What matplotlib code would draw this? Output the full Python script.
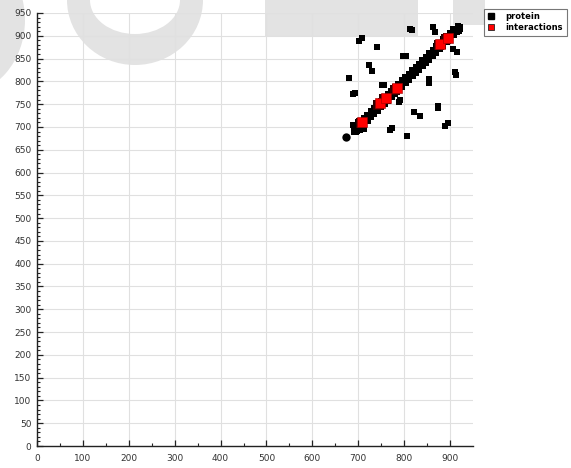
import matplotlib
matplotlib.use("Agg")
import matplotlib.pyplot as plt
from matplotlib.patches import Ellipse, Rectangle
from matplotlib.lines import Line2D

W, H = 571, 468

# ---- data ----
scatter_x = [701, 708, 741, 797, 803, 813, 817, 723, 730, 863, 867, 917, 906, 915,
             911, 914, 680, 688, 692, 752, 757, 789, 790, 769, 773, 806, 854, 854,
             821, 834, 874, 874, 889, 895]
scatter_y = [889, 895, 875, 856, 855, 915, 913, 836, 823, 919, 908, 921, 871, 864,
             820, 815, 807, 772, 775, 792, 792, 755, 760, 693, 697, 680, 805, 797,
             733, 724, 741, 746, 702, 708]

diag_x = [692, 696, 699, 703, 707, 711, 714, 718, 722, 726, 729, 733, 737, 741, 744,
          748, 752, 756, 759, 763, 767, 771, 774, 778, 782, 786, 789, 793, 797, 801,
          804, 808, 812, 816, 819, 823, 827, 831, 834, 838, 842, 846, 849, 853, 857,
          861, 864, 868, 872, 876, 879, 883, 887, 891, 894, 898, 902, 906, 909, 913,
          917, 920]
diag_y = [695, 693, 702, 700, 710, 708, 717, 715, 725, 723, 732, 730, 740, 738, 747,
          745, 755, 753, 762, 760, 770, 768, 777, 775, 785, 783, 792, 790, 800, 798,
          807, 805, 815, 813, 822, 820, 830, 828, 837, 835, 845, 843, 852, 850, 860,
          858, 867, 865, 875, 873, 882, 880, 890, 888, 897, 895, 905, 903, 912, 910,
          913, 917]

cluster_x = [688, 692, 696, 700, 705, 712, 690, 697, 703]
cluster_y = [705, 695, 688, 710, 700, 696, 690, 701, 693]

circle_x = [673]
circle_y = [678]

inter_x = [708, 747, 760, 784, 878, 895]
inter_y = [711, 752, 764, 785, 882, 895]

series_labels = ["protein", "interactions"]
xticks = [0, 100, 200, 300, 400, 500, 600, 700, 800, 900]
yticks = list(range(0, 951, 50))

protein_x = scatter_x + cluster_x
protein_y = scatter_y + cluster_y

# ---- figure ----
fig = plt.figure(figsize=(W / 100, H / 100), dpi=100)
fig.patch.set_facecolor("white")

wm = "#e3e3e3"
def fx(px):
    return px / W
def fy(py):
    return 1 - py / H

# watermark shapes (pixel geometry -> figure fraction)
fig.add_artist(Ellipse((fx(-40), fy(20)), 130 / W, 150 / H, transform=fig.transFigure,
                       facecolor=wm, edgecolor="none", zorder=0))
fig.add_artist(Ellipse((fx(135), fy(0)), 136 / W, 130 / H, transform=fig.transFigure,
                       facecolor=wm, edgecolor="none", zorder=0))
fig.add_artist(Ellipse((fx(135), fy(0)), 90 / W, 68 / H, transform=fig.transFigure,
                       facecolor="white", edgecolor="none", zorder=0.1))
fig.add_artist(Rectangle((fx(265), fy(36)), 153 / W, 36 / H, transform=fig.transFigure,
                         facecolor=wm, edgecolor="none", zorder=0))
fig.add_artist(Rectangle((fx(453), fy(25)), 32 / W, 25 / H, transform=fig.transFigure,
                         facecolor=wm, edgecolor="none", zorder=0))

ax = fig.add_axes([37 / W, 22 / H, 436 / W, 433 / H])
ax.set_facecolor("none")
ax.set_zorder(1)

ax.plot(protein_x, protein_y, linestyle="none", marker="s", markersize=3.8,
        color="black", markeredgewidth=0, zorder=3)
ax.plot(diag_x, diag_y, linestyle="none", marker="s", markersize=5.2,
        color="black", markeredgewidth=0, zorder=3)
ax.plot(circle_x, circle_y, linestyle="none", marker="o", markersize=6,
        color="black", markeredgewidth=0, zorder=3)
# dark shadow behind the red squares
ax.plot([v - 3 for v in inter_x], [v - 3 for v in inter_y], linestyle="none",
        marker="s", markersize=7, color="#300000", markeredgewidth=0, zorder=3.5)
ax.plot(inter_x, inter_y, linestyle="none", marker="s", markersize=7,
        markerfacecolor="#ff0000", markeredgecolor="#9a0000", markeredgewidth=0.4, zorder=4)

ax.set_xlim(0, 950)
ax.set_ylim(0, 950)
ax.set_xticks(xticks)
ax.set_xticks(range(50, 950, 100), minor=True)
ax.set_yticks(yticks)
ax.set_yticks([v for v in range(0, 951, 10) if v % 50], minor=True)

ax.grid(True, which="major", color="#e0e0e0", linewidth=0.8, zorder=0)
ax.set_axisbelow(True)

for s in ["top", "right"]:
    ax.spines[s].set_visible(False)
for s in ["left", "bottom"]:
    ax.spines[s].set_color("#222222")
    ax.spines[s].set_linewidth(1.0)

ax.tick_params(axis="both", which="major", direction="in", length=4, width=0.9,
               color="#222222", labelsize=6.5, labelcolor="#333333")
ax.tick_params(axis="both", which="minor", direction="in", length=2, width=0.8,
               color="#222222")
ax.tick_params(axis="x", which="major", pad=6)
ax.tick_params(axis="y", which="major", pad=4)

handles = [
    Line2D([], [], linestyle="none", marker="s", markersize=5, color="black"),
    Line2D([], [], linestyle="none", marker="s", markersize=5,
           markerfacecolor="#ff0000", markeredgecolor="#222222", markeredgewidth=0.6),
]
leg = fig.legend(handles, series_labels, loc="upper left",
                 bbox_to_anchor=(484 / W, 1 - 9 / H), bbox_transform=fig.transFigure,
                 prop={"size": 6, "weight": "bold"}, frameon=True, fancybox=False,
                 shadow=False, handlelength=0.8, handletextpad=1.4, borderpad=0.4,
                 labelspacing=0.25, borderaxespad=0)
leg.get_frame().set_edgecolor("#555555")
leg.get_frame().set_linewidth(0.8)

fig.savefig("out.png", dpi=100)
